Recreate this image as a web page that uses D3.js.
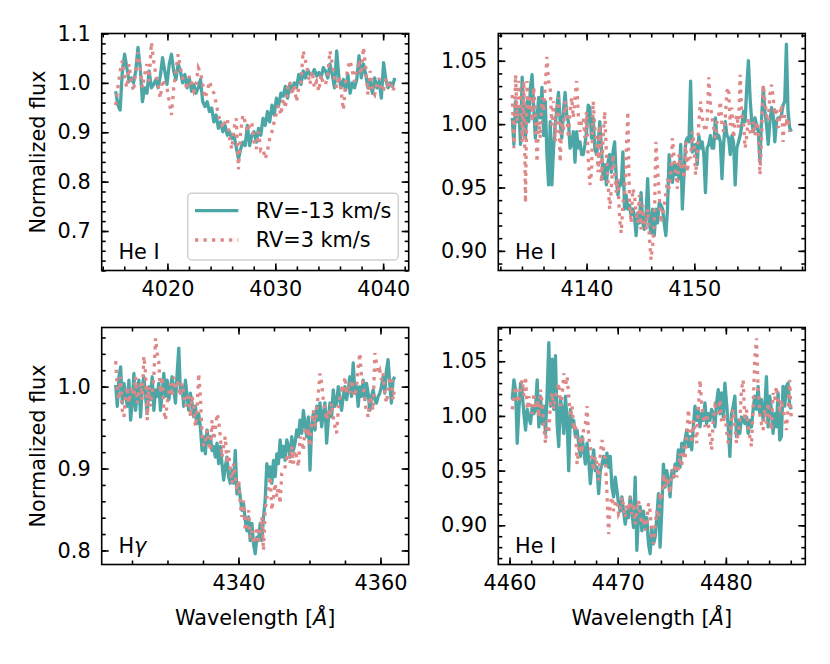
<!DOCTYPE html>
<html>
<head>
<meta charset="utf-8">
<script src="https://cdn.jsdelivr.net/npm/d3@7"></script>
<style>
  body { margin: 0; background: #fff; }
  svg { font-family: "DejaVu Sans", sans-serif; }
</style>
</head>
<body>
<div id="chart"></div>
<script>
// ---- data ----
const lineNames = ["He I", "He I", "H\u03b3", "He I"];
const seriesNames = ["RV=-13 km/s", "RV=3 km/s"];
const waveStart = [4015.2, 4133.1, 4322.7, 4460.25];   // first pixel of each spectrum [A]
const waveStep = [0.207, 0.1533, 0.234, 0.1536];        // sampling [A]

const tealHeI4026 = [
0.983,0.955,0.945,1.024,1.058,1.031,1.003,1.010,1.000,1.024,
1.072,1.031,0.962,0.990,0.979,1.024,0.990,0.997,1.007,0.990,
1.014,1.051,1.024,0.997,1.038,1.058,1.024,1.007,1.038,1.024,
1.000,1.017,0.990,1.010,0.983,0.997,0.979,0.990,1.007,0.962,
0.952,0.962,0.942,0.949,0.921,0.935,0.908,0.921,0.901,0.914,
0.894,0.901,0.887,0.894,0.870,0.846,0.866,0.880,0.873,0.914,
0.873,0.894,0.901,0.880,0.908,0.894,0.928,0.914,0.942,0.921,
0.955,0.935,0.969,0.955,0.979,0.973,0.993,0.969,0.997,0.983,
1.000,0.990,1.017,0.997,1.024,1.010,1.027,1.017,1.017,1.027,
1.014,1.021,1.010,1.031,1.024,1.010,1.038,1.017,0.990,1.065,
1.010,0.990,1.007,0.986,1.017,0.979,1.000,0.990,1.007,1.055,
1.010,1.038,1.017,0.990,1.003,0.979,1.010,0.990,1.003,0.969,
1.041,1.007,0.990,1.000,0.993,1.010];
const pinkHeI4026 = [
0.955,0.990,1.024,1.045,1.010,0.990,1.038,1.003,0.983,1.024,
1.062,1.031,0.990,1.017,1.038,1.003,1.082,1.045,1.017,0.997,
0.969,1.007,0.997,0.990,0.962,0.935,0.990,1.024,1.058,1.031,
1.010,1.003,0.986,1.014,1.000,0.983,0.997,1.031,1.021,0.997,
0.969,0.983,1.003,0.990,0.979,0.959,0.935,0.921,0.908,0.921,
0.928,0.890,0.866,0.908,0.928,0.825,0.901,0.935,0.921,0.901,
0.914,0.921,0.880,0.866,0.901,0.863,0.866,0.846,0.863,0.887,
0.901,0.921,0.938,0.955,0.935,0.969,0.949,0.990,1.003,0.976,
0.997,0.962,0.990,1.003,1.065,1.045,1.024,0.997,1.024,0.990,
1.003,0.983,1.017,0.997,0.997,1.017,1.065,1.038,1.010,0.990,
1.014,0.983,0.945,1.003,1.031,1.045,1.024,1.003,1.031,1.038,
1.017,1.072,1.031,0.976,1.024,0.983,0.976,0.997,1.010,0.983,
0.986,1.010,0.997,1.003,0.983,0.993];

const tealHeI4144 = [
1.005,0.984,1.018,1.002,1.013,0.984,1.037,1.005,0.989,1.018,
1.002,1.029,1.039,1.013,0.989,1.005,1.021,1.005,1.029,0.991,
1.018,0.976,0.952,1.002,0.952,0.981,0.999,1.013,1.025,1.002,
0.989,1.010,1.025,1.007,1.002,0.981,0.984,0.994,0.970,0.994,
0.981,0.986,0.976,0.976,0.984,0.994,1.015,1.013,0.989,1.005,
0.981,0.976,0.984,1.002,0.981,0.957,0.968,0.952,0.970,0.976,
0.962,0.978,0.986,0.957,0.944,0.954,0.952,0.978,0.933,0.944,
0.933,0.936,0.928,0.933,0.928,0.912,0.930,0.922,0.946,0.922,
0.917,0.928,0.957,0.922,0.914,0.933,0.912,0.933,0.922,0.938,
0.936,0.933,0.922,0.912,0.933,0.976,0.962,0.954,0.970,0.960,
0.968,0.957,0.984,0.933,0.960,0.986,0.989,0.986,1.034,0.978,
0.981,0.984,0.968,0.991,0.981,0.986,0.976,0.946,0.981,0.984,
0.991,0.981,0.981,1.005,0.989,0.991,0.986,0.957,0.984,1.002,
0.991,0.989,0.976,0.991,0.986,0.952,0.981,0.986,0.991,0.999,
1.010,1.002,1.029,1.050,1.021,1.002,0.994,1.005,0.999,0.994,
0.970,1.005,1.029,1.010,0.999,0.984,1.002,1.013,1.007,0.986,
1.002,1.005,1.005,1.007,1.015,1.018,1.063,1.010,0.997,0.994];
const pinkHeI4144 = [
1.023,0.981,1.039,1.002,1.034,1.021,0.986,1.034,0.938,1.034,
1.010,1.023,1.002,1.029,1.007,0.970,1.002,0.989,1.021,1.010,
1.031,1.053,1.034,1.029,0.999,1.018,0.986,1.005,1.021,0.970,
1.002,0.994,1.018,1.007,0.989,1.010,1.021,1.005,1.021,1.034,
1.007,0.994,1.002,1.005,0.989,1.010,0.973,0.952,0.962,1.018,
0.997,0.986,0.962,0.999,0.954,0.989,1.010,0.976,0.954,0.933,
0.949,0.976,0.962,0.946,0.957,0.925,0.914,0.938,0.944,0.976,
1.010,0.938,0.922,0.949,0.944,0.930,0.922,0.944,0.917,0.936,
0.922,0.917,0.933,0.912,0.893,0.904,0.922,0.986,0.965,0.944,
0.922,0.928,0.936,0.944,0.957,0.949,0.960,0.989,0.973,0.960,
0.949,0.976,0.965,0.970,0.957,0.986,0.962,0.976,0.973,0.994,
0.986,0.960,0.976,1.002,1.018,1.005,0.999,0.994,1.002,1.037,
1.015,1.005,0.997,0.989,1.002,1.007,1.018,0.999,0.994,1.005,
1.026,1.029,0.999,1.013,0.989,1.002,1.007,0.997,1.039,1.007,
1.002,0.981,0.991,1.005,0.994,0.991,1.002,0.991,1.002,0.997,
0.960,0.991,1.031,1.018,1.007,1.002,1.023,1.031,1.021,1.007,
1.013,0.997,1.005,1.015,0.986,1.007,1.002,1.005,0.994];

const tealHgamma = [
1.002,0.976,1.012,1.024,0.980,1.004,0.992,0.976,1.008,0.959,
0.980,1.016,0.971,0.992,1.008,0.963,1.000,1.012,0.988,0.967,
1.000,0.984,1.012,0.971,0.996,0.988,1.004,0.971,0.992,1.016,
0.988,1.008,0.984,1.000,1.012,0.996,0.980,1.016,1.047,0.992,
1.000,0.976,1.008,0.988,0.971,0.992,0.980,0.963,0.976,0.955,
0.967,0.951,0.922,0.939,0.918,0.947,0.931,0.939,0.922,0.927,
0.914,0.931,0.906,0.927,0.906,0.886,0.902,0.914,0.890,0.882,
0.898,0.882,0.922,0.869,0.882,0.865,0.849,0.857,0.837,0.824,
0.841,0.812,0.833,0.808,0.796,0.816,0.812,0.833,0.812,0.841,
0.861,0.906,0.890,0.902,0.882,0.910,0.890,0.918,0.906,0.935,
0.914,0.927,0.910,0.935,0.927,0.914,0.939,0.922,0.931,0.947,
0.939,0.959,0.943,0.971,0.955,0.939,0.963,0.898,0.951,0.967,
0.947,0.976,0.959,0.980,0.951,0.967,0.980,0.931,0.959,0.980,
0.963,0.996,0.976,0.980,1.000,0.984,0.971,0.988,1.000,0.984,
0.996,1.012,0.988,1.029,0.992,1.000,0.976,1.000,0.988,1.008,
0.984,1.004,0.992,0.971,0.988,0.996,0.984,0.980,0.988,0.992,
1.000,1.012,0.992,1.020,1.033,1.004,0.980,1.008,1.012];
const pinkHgamma = [
1.031,0.996,0.984,1.012,0.971,0.963,0.988,1.000,0.980,0.992,
1.000,0.988,1.012,0.980,0.992,1.004,0.984,1.037,1.016,0.959,
1.000,0.976,0.992,1.012,1.059,1.041,1.029,0.992,1.012,0.971,
0.959,0.980,0.992,1.004,0.988,1.012,0.996,1.008,1.000,0.988,
1.004,0.992,0.976,0.984,0.992,0.963,0.988,0.976,0.951,0.971,
1.016,0.988,0.943,0.927,0.935,0.947,0.931,0.922,0.959,0.935,
0.947,0.967,0.959,0.939,0.914,0.927,0.939,0.906,0.922,0.898,
0.882,0.906,0.890,0.873,0.886,0.857,0.841,0.861,0.824,0.833,
0.849,0.816,0.824,0.808,0.816,0.829,0.808,0.824,0.841,0.800,
0.849,0.865,0.873,0.890,0.849,0.865,0.882,0.865,0.878,0.857,
0.894,0.898,0.902,0.914,0.918,0.906,0.927,0.906,0.922,0.914,
0.902,0.939,0.931,0.922,0.951,0.939,0.943,0.927,0.959,0.971,
0.951,0.971,0.992,1.016,1.004,0.984,0.971,0.959,0.971,0.963,
0.980,0.963,0.951,0.943,0.971,0.988,0.996,0.992,1.012,0.992,
1.000,0.992,1.008,0.996,0.988,1.000,1.024,1.041,1.012,1.004,
0.980,0.971,0.963,0.988,0.980,0.971,1.041,1.029,1.016,1.020,
1.008,1.016,0.992,0.980,0.996,1.008,1.012,0.984,1.000];

const tealHeI4471 = [
1.015,1.033,1.024,0.975,1.006,1.030,1.021,1.002,0.987,1.006,
0.999,0.993,1.009,1.002,1.006,1.033,0.990,1.018,0.993,1.009,
0.984,1.021,1.067,1.009,1.052,1.006,1.055,0.993,0.972,1.015,
1.006,0.984,1.018,0.996,0.950,1.006,0.990,0.996,0.981,0.987,
0.975,0.963,0.981,0.969,0.956,0.975,0.960,0.938,0.956,0.969,
0.950,0.953,0.929,0.950,0.956,0.963,0.956,0.966,0.953,0.963,
0.935,0.926,0.944,0.932,0.920,0.913,0.926,0.913,0.901,0.913,
0.907,0.926,0.913,0.898,0.944,0.877,0.910,0.917,0.895,0.913,
0.898,0.907,0.883,0.874,0.898,0.883,0.889,0.907,0.929,0.880,
0.913,0.956,0.935,0.950,0.941,0.926,0.950,0.944,0.956,0.950,
0.969,0.953,0.975,0.966,0.978,0.987,0.972,0.981,0.969,0.990,
1.009,0.996,1.006,0.990,1.002,0.996,1.012,0.993,1.002,0.996,
1.006,1.002,0.990,1.012,1.024,1.002,1.021,0.999,1.030,1.012,
0.990,0.963,1.002,1.009,1.018,0.981,0.996,0.984,0.999,0.996,
0.993,0.999,0.984,0.996,0.990,1.006,1.018,1.006,1.027,1.002,
1.015,0.996,1.006,1.036,0.990,1.018,1.006,0.984,1.002,0.990,
1.021,0.978,0.981,1.027,1.009,1.027,1.030,1.009,1.006];
const pinkHeI4471 = [
1.006,1.018,1.027,1.015,1.012,1.027,1.033,1.018,1.036,1.006,
1.018,1.006,1.002,1.021,1.006,1.015,0.999,1.024,1.012,0.990,
0.975,0.996,0.984,1.012,1.021,1.006,1.018,1.024,1.030,1.009,
1.018,1.039,1.027,1.036,1.018,0.999,1.009,0.987,0.993,0.956,
0.969,0.981,0.966,0.990,0.993,1.009,0.981,0.972,0.960,0.950,
0.963,0.956,0.941,0.966,0.978,0.969,0.960,0.929,0.892,0.920,
0.926,0.913,0.920,0.923,0.910,0.913,0.926,0.917,0.907,0.920,
0.913,0.926,0.910,0.920,0.901,0.913,0.923,0.910,0.901,0.907,
0.895,0.904,0.920,0.913,0.889,0.883,0.901,0.913,0.907,0.926,
0.923,0.947,0.935,0.944,0.938,0.929,0.950,0.944,0.956,0.944,
0.950,0.966,0.953,0.972,0.960,0.981,1.006,0.990,0.975,0.996,
0.987,0.975,1.006,1.033,1.012,0.999,0.990,1.002,0.993,0.981,
0.969,0.996,1.009,1.006,1.002,1.015,0.996,0.993,1.002,0.987,
0.975,0.981,0.996,1.006,0.990,0.975,0.984,0.996,1.024,1.033,
0.996,1.006,0.990,0.981,0.972,1.009,1.052,1.071,1.024,1.002,
0.993,0.987,1.006,0.993,1.012,0.999,0.987,1.021,1.015,1.027,
1.009,1.006,1.015,1.006,0.999,0.987,1.006,1.033,0.996];

const tealSeries = [tealHeI4026, tealHeI4144, tealHgamma, tealHeI4471];
const pinkSeries = [pinkHeI4026, pinkHeI4144, pinkHgamma, pinkHeI4471];

// tick values
const xMajorTicks = [[4020,4030,4040],[4140,4150],[4340,4360],[4460,4470,4480]];
const xMinorStep = [2, 2, 5, 2];
const yMajorTicks = [[0.7,0.8,0.9,1.0,1.1],[0.90,0.95,1.00,1.05],[0.8,0.9,1.0],[0.90,0.95,1.00,1.05]];
const yMinorStep = [0.02, 0.01, 0.02, 0.01];
const yTickFormat = [".1f", ".2f", ".1f", ".2f"];
const yLimitsTopLeft = [0.62, 1.1];

// ---- layout ----
const TEAL = "#4da6a6", PINK = "#df8888";
const FS = 20.8;
const boxes = [
  {x:101.7, y:33.5,  w:307, h:237},
  {x:498.3, y:33.5,  w:307, h:237},
  {x:101.7, y:327.5, w:307, h:237},
  {x:498.3, y:327.5, w:307, h:237}
];

const svg = d3.select("#chart").append("svg")
  .attr("width", 830).attr("height", 664);

function stepTicks(domain, step){
  var out = [];
  var k0 = Math.ceil(domain[0]/step - 1e-9), k1 = Math.floor(domain[1]/step + 1e-9);
  for (var k = k0; k <= k1; k++) out.push(+(k*step).toFixed(6));
  return out;
}

class SpectrumPanel {
  constructor(i, box){
    this.i = i;
    this.box = box;
    this.g = svg.append("g").attr("transform", "translate(" + box.x + "," + box.y + ")");
    this.teal = tealSeries[i];
    this.pink = pinkSeries[i];
    this.start = waveStart[i];
    this.step = waveStep[i];

    var n = Math.max(this.teal.length, this.pink.length);
    var wl0 = this.start, wl1 = this.start + (n - 1) * this.step;
    var padX = (wl1 - wl0) * 0.05;
    this.x = d3.scaleLinear().domain([wl0 - padX, wl1 + padX]).range([0, box.w]);

    var yDom;
    if (i === 0) yDom = yLimitsTopLeft;
    else {
      var ext = d3.extent(this.teal.concat(this.pink));
      var padY = (ext[1] - ext[0]) * 0.05;
      yDom = [ext[0] - padY, ext[1] + padY];
    }
    this.y = d3.scaleLinear().domain(yDom).range([box.h, 0]);
  }

  drawAxes(){
    var g = this.g, x = this.x, y = this.y, w = this.box.w, h = this.box.h, i = this.i;
    var xMinor = stepTicks(x.domain(), xMinorStep[i]);
    var yMinor = stepTicks(y.domain(), yMinorStep[i]);

    var axes = [
      [d3.axisBottom(x).tickValues(xMajorTicks[i]).tickFormat(d3.format("d")), "translate(0," + h + ")", 7],
      [d3.axisBottom(x).tickValues(xMinor).tickFormat(""), "translate(0," + h + ")", 4],
      [d3.axisTop(x).tickValues(xMajorTicks[i]).tickFormat(""), "translate(0,0)", 7],
      [d3.axisTop(x).tickValues(xMinor).tickFormat(""), "translate(0,0)", 4],
      [d3.axisLeft(y).tickValues(yMajorTicks[i]).tickFormat(d3.format(yTickFormat[i])), "translate(0,0)", 7],
      [d3.axisLeft(y).tickValues(yMinor).tickFormat(""), "translate(0,0)", 4],
      [d3.axisRight(y).tickValues(yMajorTicks[i]).tickFormat(""), "translate(" + w + ",0)", 7],
      [d3.axisRight(y).tickValues(yMinor).tickFormat(""), "translate(" + w + ",0)", 4]
    ];
    axes.forEach(function(a){
      var ax = g.append("g").attr("transform", a[1])
        .call(a[0].tickSize(-a[2]).tickSizeOuter(0).tickPadding(a[2] === 7 ? 11 : 3));
      ax.attr("font-size", null).attr("font-family", null);
      ax.select(".domain").remove();
      ax.selectAll("line").attr("stroke", "#000").attr("stroke-width", 1.6);
      ax.selectAll("text").attr("fill", "#000").style("font-size", FS + "px");
    });
  }

  drawLines(){
    var auxThis = this;
    var line = d3.line()
      .x(function(d, k){ return auxThis.x(auxThis.start + k * auxThis.step); })
      .y(function(d){ return auxThis.y(d); });
    this.g.append("path").datum(this.teal)
      .attr("d", line).attr("fill", "none")
      .attr("stroke", TEAL).attr("stroke-width", 3.3).attr("stroke-linejoin", "round");
    this.g.append("path").datum(this.pink)
      .attr("d", line).attr("fill", "none")
      .attr("stroke", PINK).attr("stroke-width", 3.3).attr("stroke-dasharray", "3.3,5.2");
  }

  drawFrame(){
    this.g.append("rect").attr("width", this.box.w).attr("height", this.box.h)
      .attr("fill", "none").attr("stroke", "#000").attr("stroke-width", 1.6);
  }

  drawLabel(){
    var name = lineNames[this.i];
    var t = this.g.append("text")
      .attr("x", 16.7).attr("y", this.box.h - 11.5)
      .style("font-size", FS + "px");
    if (name.indexOf("\u03b3") >= 0) {
      t.append("tspan").text("H");
      t.append("tspan").attr("font-style", "italic").text("\u03b3");
    } else t.text(name);
  }

  drawLegend(){
    var w = 210.6, h = 66.7;
    var lg = this.g.append("g")
      .attr("transform", "translate(" + (this.box.w - 10.4 - w) + "," + (this.box.h - 10.5 - h) + ")");
    lg.append("rect").attr("width", w).attr("height", h).attr("rx", 4)
      .attr("fill", "#fff").attr("fill-opacity", 0.8)
      .attr("stroke", "#d0d0d0").attr("stroke-width", 1.5);
    var styles = [[TEAL, null], [PINK, "3.3,5.2"]];
    seriesNames.forEach(function(s, k){
      var yy = 17.4 + k * 29.3;
      lg.append("line").attr("x1", 7.3).attr("x2", 50.6).attr("y1", yy).attr("y2", yy)
        .attr("stroke", styles[k][0]).attr("stroke-width", 3.3)
        .attr("stroke-dasharray", styles[k][1]);
      lg.append("text").attr("x", 68).attr("y", yy).attr("dy", "0.36em")
        .style("font-size", FS + "px").text(s);
    });
  }
}

var panels = boxes.map(function(b, i){
  var p = new SpectrumPanel(i, b);
  p.drawLines();
  p.drawAxes();
  p.drawFrame();
  p.drawLabel();
  if (i === 0) p.drawLegend();
  return p;
});

// axis titles
[0, 2].forEach(function(i){
  var b = boxes[i];
  svg.append("text")
    .attr("transform", "translate(45," + (b.y + b.h / 2) + ") rotate(-90)")
    .attr("text-anchor", "middle").style("font-size", FS + "px")
    .text("Normalized flux");
});
[2, 3].forEach(function(i){
  var b = boxes[i];
  var t = svg.append("text")
    .attr("x", b.x + b.w / 2).attr("y", 625)
    .attr("text-anchor", "middle").style("font-size", FS + "px");
  t.append("tspan").text("Wavelength [");
  t.append("tspan").attr("font-style", "italic").text("\u00c5");
  t.append("tspan").text("]");
});
</script>
</body>
</html>
